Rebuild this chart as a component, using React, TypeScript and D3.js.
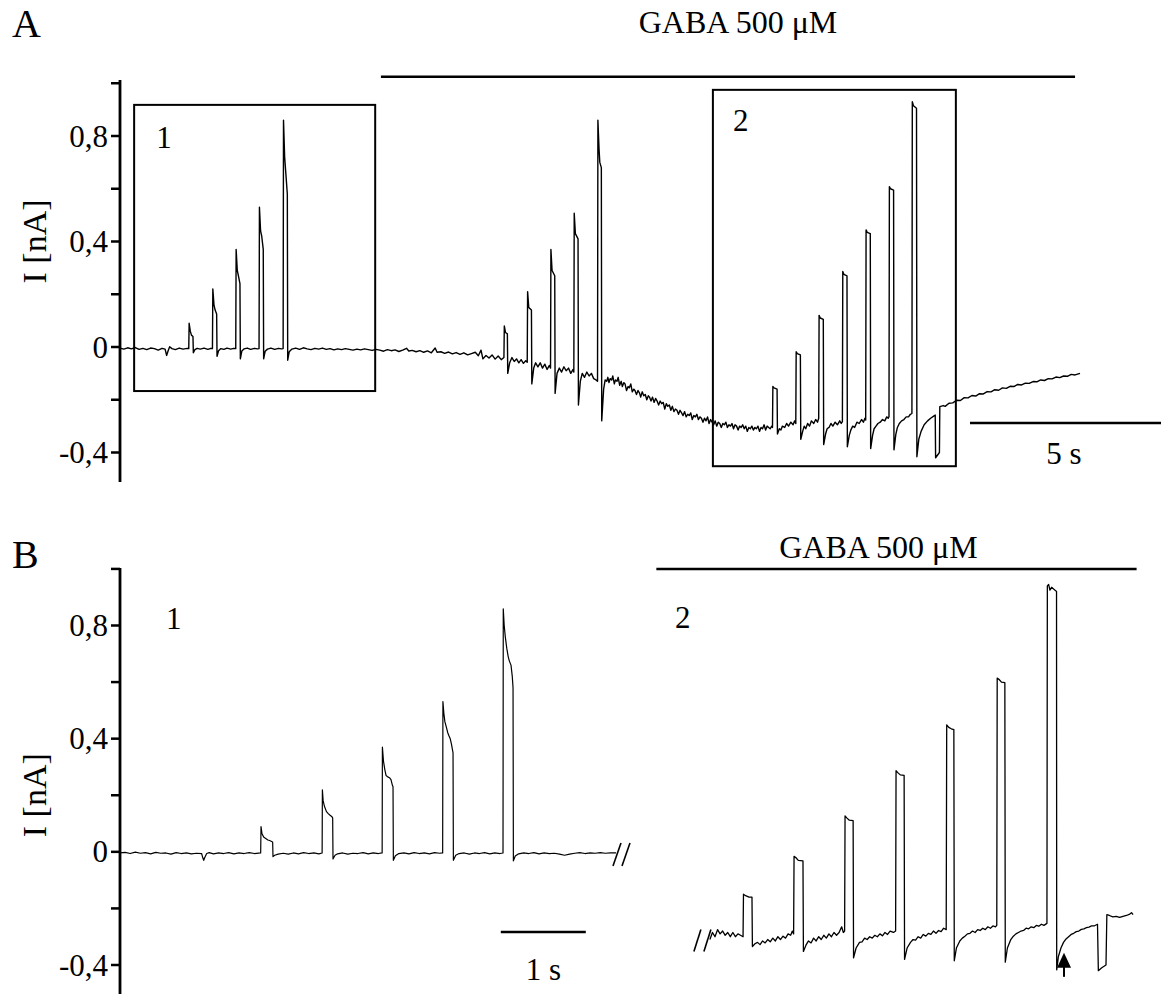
import React from 'react';
import * as d3 from 'd3';

type P = [number, number];

// ---------- tick definitions ----------
const yTicks = [-0.4, -0.2, 0, 0.2, 0.4, 0.6, 0.8, 1.0];
const yTickLabels = [-0.4, 0, 0.4, 0.8];
const fmt = (v: number) => (v === 0 ? '0' : String(v).replace('.', ','));

// ---------- Panel A trace (time s, current nA) ----------
const traceA: P[] = [
  [0.00,-0.004],[0.10,-0.008],[0.20,-0.003],[0.30,-0.007],[0.40,-0.002],[0.50,-0.009],[0.60,-0.005],[0.70,-0.010],[0.80,-0.004],[0.90,-0.006],[1.00,-0.012],[1.10,-0.005],[1.18,-0.008],[1.22,-0.032],[1.26,-0.014],[1.30,0.001],[1.36,-0.006],[1.45,-0.010],[1.55,-0.004],[1.65,-0.008],[1.76,-0.005],
  [1.80,-0.006],[1.81,0.09],[1.84,0.06],[1.87,0.045],[1.91,0.04],[1.92,-0.022],[1.96,-0.010],[2.02,-0.005],[2.10,-0.008],[2.20,-0.004],[2.30,-0.009],[2.38,-0.005],
  [2.42,-0.006],[2.43,0.22],[2.46,0.16],[2.49,0.14],[2.53,0.125],[2.54,-0.035],[2.58,-0.014],[2.64,-0.006],[2.72,-0.009],[2.80,-0.004],[2.90,-0.008],[2.98,-0.005],
  [3.03,-0.006],[3.04,0.37],[3.07,0.29],[3.10,0.27],[3.14,0.24],[3.15,-0.045],[3.19,-0.015],[3.25,-0.007],[3.33,-0.004],[3.42,-0.009],[3.52,-0.005],[3.60,-0.007],
  [3.64,-0.006],[3.65,0.53],[3.68,0.44],[3.71,0.42],[3.75,0.37],[3.76,-0.045],[3.80,-0.016],[3.86,-0.008],[3.95,-0.004],[4.05,-0.009],[4.15,-0.005],[4.23,-0.007],
  [4.27,-0.006],[4.28,0.86],[4.31,0.72],[4.34,0.66],[4.38,0.58],[4.39,-0.05],[4.43,-0.018],[4.50,-0.008],[4.60,-0.004],
  [4.70,-0.009],[4.80,-0.003],[4.90,-0.007],[5.00,-0.010],[5.10,-0.005],[5.20,-0.008],[5.30,-0.004],[5.40,-0.009],[5.50,-0.006],[5.60,-0.011],[5.70,-0.007],[5.80,-0.010],[5.90,-0.006],[6.00,-0.009],[6.10,-0.012],[6.20,-0.008],[6.30,-0.011],[6.40,-0.007],[6.50,-0.010],[6.60,-0.013],[6.70,-0.009],[6.80,-0.012],[6.90,-0.016],[7.00,-0.010],[7.10,-0.014],[7.20,-0.011],[7.30,-0.017],[7.40,-0.012],[7.50,-0.005],[7.56,-0.015],[7.65,-0.013],[7.75,-0.018],[7.85,-0.014],[7.95,-0.020],[8.05,-0.015],[8.15,-0.022],[8.25,-0.004],[8.30,-0.020],[8.40,-0.018],[8.50,-0.024],[8.60,-0.019],[8.70,-0.026],[8.80,-0.021],[8.90,-0.028],[9.00,-0.022],[9.10,-0.030],[9.20,-0.025],[9.30,-0.020],[9.38,-0.033],[9.45,-0.012],[9.50,-0.045],[9.58,-0.032],[9.66,-0.042],[9.74,-0.030],[9.82,-0.046],[9.90,-0.034],[9.98,-0.048],[10.05,-0.040],
  [10.06,0.08],[10.09,0.055],[10.14,0.05],[10.15,-0.10],[10.20,-0.06],[10.26,-0.040],[10.32,-0.055],[10.38,-0.045],[10.44,-0.060],[10.50,-0.048],[10.56,-0.062],[10.62,-0.052],[10.66,-0.058],
  [10.67,0.21],[10.70,0.15],[10.77,0.14],[10.78,-0.14],[10.83,-0.08],[10.88,-0.06],[10.94,-0.075],[11.00,-0.06],[11.06,-0.08],[11.12,-0.065],[11.18,-0.085],[11.24,-0.07],[11.27,-0.08],
  [11.28,0.37],[11.31,0.29],[11.38,0.27],[11.39,-0.176],[11.44,-0.10],[11.50,-0.08],[11.56,-0.095],[11.62,-0.075],[11.68,-0.09],[11.74,-0.08],[11.80,-0.10],[11.86,-0.085],[11.88,-0.095],
  [11.89,0.507],[11.92,0.43],[11.99,0.41],[12.00,-0.22],[12.05,-0.13],[12.10,-0.10],[12.16,-0.115],[12.22,-0.095],[12.28,-0.11],[12.34,-0.10],[12.40,-0.12],[12.46,-0.125],[12.50,-0.13],
  [12.51,0.86],[12.54,0.75],[12.56,0.70],[12.60,0.68],[12.61,-0.28],[12.66,-0.16],
  [12.70,-0.125],[12.74,-0.13],[12.77,-0.115],[12.80,-0.135],[12.83,-0.12],[12.87,-0.125],[12.90,-0.11],[12.94,-0.14],[12.97,-0.125],[13.01,-0.13],[13.04,-0.115],[13.08,-0.145],[13.12,-0.13],[13.15,-0.15],[13.19,-0.135],[13.22,-0.14],[13.26,-0.165],[13.30,-0.15],[13.33,-0.155],[13.37,-0.14],[13.41,-0.17],[13.45,-0.16],[13.48,-0.165],[13.52,-0.18],[13.56,-0.165],[13.60,-0.175],[13.63,-0.19],[13.67,-0.17],[13.71,-0.185],[13.75,-0.18],[13.79,-0.20],[13.83,-0.185],[13.86,-0.19],[13.90,-0.205],[13.94,-0.19],[13.98,-0.21],[14.02,-0.195],[14.06,-0.205],[14.10,-0.22],[14.14,-0.205],[14.18,-0.215],[14.22,-0.21],[14.26,-0.235],[14.30,-0.215],[14.34,-0.225],[14.38,-0.22],[14.42,-0.24],[14.46,-0.225],[14.50,-0.245],[14.54,-0.235],[14.58,-0.24],[14.62,-0.255],[14.66,-0.24],[14.70,-0.25],[14.74,-0.26],[14.78,-0.245],[14.82,-0.265],[14.86,-0.255],[14.90,-0.26],[14.94,-0.25],[14.98,-0.275],[15.02,-0.26],[15.06,-0.265],[15.10,-0.255],[15.14,-0.275],[15.18,-0.265],[15.22,-0.27],[15.26,-0.285],[15.30,-0.27],[15.34,-0.28],[15.38,-0.265],[15.42,-0.29],[15.46,-0.275],[15.50,-0.285],[15.54,-0.295],[15.58,-0.28],[15.62,-0.30],[15.66,-0.285],[15.70,-0.29],[15.74,-0.305],[15.78,-0.29],[15.82,-0.295],[15.86,-0.285],[15.90,-0.305],[15.94,-0.295],[15.98,-0.30],[16.02,-0.29],[16.06,-0.31],[16.10,-0.295],[16.14,-0.30],[16.18,-0.315],[16.22,-0.30],[16.26,-0.305],[16.30,-0.295],[16.34,-0.31],[16.38,-0.30],[16.42,-0.32],[16.46,-0.305],[16.50,-0.31],[16.54,-0.30],[16.58,-0.315],[16.62,-0.305],[16.66,-0.31],[16.70,-0.30],[16.74,-0.32],[16.78,-0.305],[16.82,-0.31],[16.86,-0.295],[16.90,-0.315],[16.94,-0.30],[16.98,-0.305],[17.02,-0.31],[17.06,-0.30],[17.08,-0.305],
  [17.09,-0.15],[17.12,-0.155],[17.20,-0.16],[17.21,-0.33],[17.26,-0.31],[17.30,-0.315],[17.34,-0.30],[17.40,-0.305],[17.45,-0.29],[17.50,-0.30],[17.56,-0.285],[17.62,-0.295],[17.66,-0.28],[17.69,-0.29],
  [17.70,-0.018],[17.73,-0.025],[17.81,-0.03],[17.82,-0.35],[17.87,-0.32],[17.91,-0.30],[17.95,-0.31],[18.00,-0.29],[18.05,-0.30],[18.10,-0.28],[18.16,-0.29],[18.21,-0.275],[18.26,-0.285],[18.29,-0.27],
  [18.30,0.12],[18.33,0.11],[18.41,0.105],[18.42,-0.37],[18.47,-0.33],[18.51,-0.31],[18.56,-0.305],[18.61,-0.29],[18.66,-0.30],[18.72,-0.285],[18.78,-0.295],[18.84,-0.28],[18.88,-0.29],[18.91,-0.283],
  [18.92,0.286],[18.95,0.275],[19.03,0.27],[19.04,-0.378],[19.09,-0.335],[19.13,-0.315],[19.18,-0.30],[19.23,-0.305],[19.29,-0.285],[19.35,-0.29],[19.41,-0.275],[19.46,-0.285],[19.50,-0.27],[19.52,-0.277],
  [19.53,0.444],[19.56,0.435],[19.64,0.43],[19.65,-0.385],[19.70,-0.335],[19.74,-0.31],[19.79,-0.30],[19.84,-0.29],[19.90,-0.285],[19.96,-0.275],[20.02,-0.28],[20.07,-0.265],[20.11,-0.27],[20.13,-0.264],
  [20.14,0.608],[20.17,0.60],[20.25,0.595],[20.26,-0.39],[20.31,-0.33],[20.35,-0.305],[20.40,-0.29],[20.46,-0.28],[20.52,-0.275],[20.58,-0.265],[20.64,-0.265],[20.69,-0.255],[20.73,-0.252],
  [20.74,0.93],[20.77,0.915],[20.85,0.905],[20.86,-0.416],[20.91,-0.35],[20.97,-0.32],[21.05,-0.295],[21.14,-0.28],[21.22,-0.27],[21.30,-0.262],[21.34,-0.258],
  [21.35,-0.42],[21.45,-0.40],[21.46,-0.226],[21.55,-0.222],[21.60,-0.225],[21.70,-0.213],[21.80,-0.212],[21.90,-0.202],[22.00,-0.203],[22.10,-0.192],[22.20,-0.193],[22.30,-0.184],[22.40,-0.186],[22.50,-0.177],[22.60,-0.178],[22.70,-0.169],[22.80,-0.170],[22.90,-0.162],[23.00,-0.164],[23.10,-0.155],[23.20,-0.157],[23.30,-0.149],[23.40,-0.150],[23.50,-0.142],[23.60,-0.144],[23.70,-0.137],[23.80,-0.138],[23.90,-0.131],[24.00,-0.132],[24.10,-0.125],[24.20,-0.127],[24.30,-0.120],[24.40,-0.121],[24.50,-0.114],[24.60,-0.116],[24.70,-0.110],[24.80,-0.111],[24.90,-0.104],[25.00,-0.106],[25.13,-0.100],
];

// ---------- Panel B, segment 1 (before GABA) ----------
const traceB1: P[] = [
  [0.00,-0.004],[0.06,-0.002],[0.12,-0.006],[0.18,-0.001],[0.24,-0.005],[0.30,-0.003],[0.36,-0.007],[0.42,-0.002],[0.48,-0.005],[0.54,-0.004],[0.60,-0.008],[0.66,-0.003],[0.72,-0.006],[0.78,-0.004],[0.84,-0.007],[0.90,-0.005],[0.96,-0.006],[0.975,-0.022],[0.985,-0.03],[1.00,-0.018],[1.02,-0.006],[1.05,-0.003],[1.10,-0.007],[1.16,-0.004],[1.22,-0.006],[1.28,-0.003],[1.34,-0.007],[1.40,-0.004],[1.46,-0.006],[1.52,-0.003],[1.58,-0.006],[1.655,-0.004],
  [1.659,0.089],[1.67,0.065],[1.69,0.052],[1.71,0.048],[1.74,0.042],[1.76,0.04],[1.796,0.035],[1.80,-0.017],[1.82,-0.012],[1.86,-0.008],[1.92,-0.005],[1.98,-0.008],[2.04,-0.004],[2.10,-0.007],[2.16,-0.003],[2.22,-0.006],[2.28,-0.004],[2.34,-0.007],[2.378,-0.004],
  [2.381,0.219],[2.39,0.18],[2.406,0.16],[2.429,0.142],[2.45,0.135],[2.468,0.13],[2.49,0.125],[2.502,0.12],[2.506,-0.025],[2.53,-0.012],[2.56,-0.007],[2.62,-0.004],[2.68,-0.008],[2.74,-0.005],[2.80,-0.006],[2.86,-0.003],[2.92,-0.007],[2.98,-0.004],[3.04,-0.006],[3.084,-0.004],
  [3.087,0.37],[3.10,0.32],[3.116,0.29],[3.13,0.27],[3.15,0.265],[3.17,0.262],[3.188,0.255],[3.205,0.235],[3.212,0.23],[3.216,-0.03],[3.24,-0.014],[3.28,-0.006],[3.34,-0.004],[3.40,-0.007],[3.46,-0.003],[3.52,-0.006],[3.58,-0.004],[3.64,-0.007],[3.70,-0.003],[3.76,-0.005],[3.796,-0.004],
  [3.799,0.531],[3.81,0.49],[3.822,0.46],[3.84,0.44],[3.857,0.42],[3.87,0.41],[3.885,0.40],[3.90,0.38],[3.918,0.35],[3.922,-0.03],[3.95,-0.012],[3.99,-0.006],[4.05,-0.004],[4.11,-0.008],[4.17,-0.004],[4.23,-0.006],[4.29,-0.003],[4.35,-0.007],[4.41,-0.004],[4.47,-0.006],[4.506,-0.004],
  [4.509,0.859],[4.52,0.80],[4.533,0.76],[4.55,0.72],[4.567,0.69],[4.58,0.675],[4.60,0.66],[4.615,0.62],[4.624,0.58],[4.628,-0.032],[4.65,-0.015],[4.69,-0.007],[4.75,-0.004],[4.81,-0.006],[4.87,-0.003],[4.93,-0.007],[4.99,-0.004],[5.05,-0.006],[5.11,-0.005],[5.17,-0.008],[5.23,-0.012],[5.29,-0.008],[5.35,-0.005],[5.41,-0.003],[5.47,-0.006],[5.53,-0.004],[5.59,-0.005],[5.65,-0.003],[5.71,-0.005],[5.77,-0.004],[5.835,-0.004],
];

// ---------- Panel B, segment 2 (GABA) ----------
const traceB2: P[] = [
  [6.94,-0.31],[6.97,-0.285],[7.00,-0.30],[7.03,-0.275],[7.06,-0.29],[7.09,-0.28],[7.12,-0.295],[7.15,-0.285],[7.18,-0.30],[7.21,-0.285],[7.24,-0.30],[7.27,-0.29],[7.30,-0.295],[7.33,-0.30],
  [7.335,-0.15],[7.36,-0.155],[7.40,-0.16],[7.435,-0.16],[7.44,-0.335],[7.47,-0.325],[7.50,-0.32],[7.53,-0.328],[7.56,-0.315],[7.59,-0.322],[7.62,-0.31],[7.65,-0.318],[7.68,-0.305],[7.71,-0.315],[7.74,-0.30],[7.77,-0.31],[7.80,-0.298],[7.83,-0.305],[7.86,-0.29],[7.89,-0.295],[7.91,-0.28],[7.925,-0.29],
  [7.93,-0.016],[7.95,-0.02],[7.98,-0.03],[8.035,-0.032],[8.04,-0.352],[8.07,-0.33],[8.10,-0.315],[8.13,-0.322],[8.16,-0.305],[8.19,-0.315],[8.22,-0.30],[8.25,-0.31],[8.28,-0.295],[8.31,-0.305],[8.34,-0.29],[8.37,-0.30],[8.40,-0.285],[8.43,-0.295],[8.46,-0.285],[8.49,-0.265],[8.51,-0.285],[8.525,-0.28],
  [8.53,0.127],[8.55,0.12],[8.58,0.112],[8.625,0.11],[8.63,-0.375],[8.66,-0.34],[8.70,-0.32],[8.73,-0.318],[8.76,-0.305],[8.79,-0.31],[8.82,-0.30],[8.85,-0.305],[8.88,-0.295],[8.91,-0.30],[8.94,-0.29],[8.97,-0.297],[9.00,-0.285],[9.03,-0.292],[9.06,-0.28],[9.10,-0.285],[9.125,-0.28],
  [9.13,0.287],[9.15,0.28],[9.18,0.272],[9.225,0.27],[9.23,-0.38],[9.26,-0.34],[9.30,-0.32],[9.33,-0.31],[9.36,-0.312],[9.39,-0.30],[9.42,-0.305],[9.45,-0.292],[9.48,-0.298],[9.51,-0.288],[9.54,-0.292],[9.57,-0.28],[9.60,-0.288],[9.63,-0.278],[9.66,-0.282],[9.69,-0.27],[9.72,-0.275],
  [9.726,0.449],[9.75,0.44],[9.78,0.435],[9.81,0.432],[9.815,-0.385],[9.84,-0.34],[9.88,-0.315],[9.91,-0.305],[9.94,-0.298],[9.97,-0.29],[10.00,-0.288],[10.03,-0.28],[10.06,-0.285],[10.09,-0.275],[10.12,-0.278],[10.15,-0.27],[10.18,-0.275],[10.21,-0.265],[10.24,-0.27],[10.27,-0.262],[10.30,-0.265],[10.315,-0.26],
  [10.32,0.614],[10.34,0.61],[10.37,0.60],[10.41,0.598],[10.415,-0.39],[10.44,-0.34],[10.48,-0.31],[10.51,-0.298],[10.54,-0.29],[10.57,-0.285],[10.60,-0.28],[10.63,-0.278],[10.66,-0.27],[10.69,-0.272],[10.72,-0.265],[10.75,-0.268],[10.78,-0.26],[10.81,-0.263],[10.84,-0.256],[10.87,-0.26],[10.905,-0.253],
  [10.91,0.94],[10.925,0.945],[10.94,0.925],[10.96,0.935],[11.0,0.925],[11.018,0.92],[11.02,-0.417],[11.04,-0.37],[11.07,-0.34],[11.10,-0.32],[11.13,-0.308],[11.16,-0.30],[11.19,-0.292],[11.22,-0.288],[11.25,-0.282],[11.28,-0.28],[11.31,-0.274],[11.34,-0.272],[11.37,-0.268],[11.40,-0.266],[11.43,-0.262],[11.46,-0.262],[11.50,-0.256],
  [11.51,-0.42],[11.55,-0.41],[11.60,-0.40],[11.61,-0.222],[11.64,-0.225],[11.68,-0.23],[11.72,-0.228],[11.76,-0.232],[11.80,-0.228],[11.84,-0.225],[11.88,-0.22],[11.90,-0.215],[11.918,-0.222],
];

// ---------- annotations (time, current) ----------
const boxesA = [
  { label: '1', t0: 0.37, t1: 6.68, v0: -0.167, v1: 0.918 },
  { label: '2', t0: 15.52, t1: 21.88, v0: -0.452, v1: 0.975 },
];
const gabaA = { t0: 6.83, t1: 25.0, v: 1.025 };
const gabaB = { t0: 6.31, t1: 11.96, v: 1.0 };
const scaleBarA = { t0: 22.25, len: 5, label: '5 s' };
const scaleBarB = { t0: 4.48, len: 1, label: '1 s' };
const arrowB = { t: 11.106, v: -0.357 };

const FONT = '"Liberation Serif", "Times New Roman", Times, serif';

function YAxis({ y, x, top, bottom }: { y: d3.ScaleLinear<number, number>; x: number; top: number; bottom: number }) {
  return (
    <g>
      <line x1={x} x2={x} y1={top} y2={bottom} stroke="#000" strokeWidth={2.8} />
      {yTicks.map((t) => (
        <line key={t} x1={x - 9} x2={x} y1={y(t)} y2={y(t)} stroke="#000" strokeWidth={2.5} />
      ))}
      {yTickLabels.map((t) => (
        <text key={t} x={x - 12} y={y(t)} dy="0.34em" textAnchor="end" fontSize={31}>
          {fmt(t)}
        </text>
      ))}
    </g>
  );
}

export default function App() {
  const xA = d3.scaleLinear().domain([0, 27.25]).range([120, 1161]);
  const yA = d3.scaleLinear().domain([-0.4, 0.8]).range([452.5, 136]);
  const xB = d3.scaleLinear().domain([0, 12]).range([120, 1140]);
  const yB = d3.scaleLinear().domain([-0.4, 0.8]).range([965, 625.5]);

  const lineA = d3.line<P>().x((d) => xA(d[0])).y((d) => yA(d[1]));
  const lineB = d3.line<P>().x((d) => xB(d[0])).y((d) => yB(d[1]));

  const b1End = traceB1[traceB1.length - 1];
  const b1x = xB(b1End[0]);
  const b1y = yB(b1End[1]);
  const b2Start = traceB2[0];
  const b2x = xB(b2Start[0]);
  const b2y = yB(b2Start[1]);
  const ax = xB(arrowB.t);
  const ay = yB(arrowB.v);

  return (
    <svg
      width={1161}
      height={994}
      style={{ position: 'absolute', left: 0, top: 0, display: 'block', background: '#fff' }}
      fontFamily={FONT}
    >
      <rect x={0} y={0} width={1161} height={994} fill="#fff" />
      {/* ---------------- Panel A ---------------- */}
      <text x={12} y={37} fontSize={40}>A</text>
      <text x={(xA(gabaA.t0) + xA(gabaA.t1)) / 2 + 10} y={33} textAnchor="middle" fontSize={32}>GABA 500 μM</text>
      <line x1={xA(gabaA.t0)} x2={xA(gabaA.t1)} y1={yA(gabaA.v)} y2={yA(gabaA.v)} stroke="#000" strokeWidth={2.5} />
      <YAxis y={yA} x={120} top={80} bottom={482} />
      <text transform={`translate(46,${yA(0.4)}) rotate(-90)`} textAnchor="middle" fontSize={34}>I [nA]</text>
      {boxesA.map((b) => (
        <rect
          key={b.label}
          x={xA(b.t0)}
          y={yA(b.v1)}
          width={xA(b.t1) - xA(b.t0)}
          height={yA(b.v0) - yA(b.v1)}
          fill="none"
          stroke="#000"
          strokeWidth={2}
        />
      ))}
      <text x={xA(boxesA[0].t0) + 22} y={yA(boxesA[0].v1) + 43} fontSize={31}>1</text>
      <text x={xA(boxesA[1].t0) + 20} y={yA(boxesA[1].v1) + 41} fontSize={31}>2</text>
      <path d={lineA(traceA) || ''} fill="none" stroke="#000" strokeWidth={1.4} strokeLinejoin="round" />
      <line x1={xA(scaleBarA.t0)} x2={xA(scaleBarA.t0 + scaleBarA.len)} y1={423} y2={423} stroke="#000" strokeWidth={2.5} />
      <text x={1064} y={464} textAnchor="middle" fontSize={31}>{scaleBarA.label}</text>

      {/* ---------------- Panel B ---------------- */}
      <text x={12} y={568} fontSize={40}>B</text>
      <text x={(xB(gabaB.t0) + xB(gabaB.t1)) / 2 - 18} y={558} textAnchor="middle" fontSize={32}>GABA 500 μM</text>
      <line x1={xB(gabaB.t0)} x2={xB(gabaB.t1)} y1={yB(gabaB.v)} y2={yB(gabaB.v)} stroke="#000" strokeWidth={2.5} />
      <YAxis y={yB} x={120} top={568} bottom={994} />
      <text transform={`translate(46,${yB(0.2)}) rotate(-90)`} textAnchor="middle" fontSize={34}>I [nA]</text>
      <text x={166} y={629} fontSize={31}>1</text>
      <text x={675} y={628} fontSize={31}>2</text>
      <path d={lineB(traceB1) || ''} fill="none" stroke="#000" strokeWidth={1.2} strokeLinejoin="round" />
      <path d={lineB(traceB2) || ''} fill="none" stroke="#000" strokeWidth={1.3} strokeLinejoin="round" />
      {/* break marks */}
      <line x1={b1x - 3} y1={b1y + 13} x2={b1x + 5} y2={b1y - 10} stroke="#000" strokeWidth={1.6} />
      <line x1={b1x + 6} y1={b1y + 13} x2={b1x + 14} y2={b1y - 10} stroke="#000" strokeWidth={1.6} />
      <line x1={b2x - 16} y1={b2y + 12} x2={b2x - 9} y2={b2y - 10} stroke="#000" strokeWidth={1.6} />
      <line x1={b2x - 6} y1={b2y + 12} x2={b2x + 1} y2={b2y - 10} stroke="#000" strokeWidth={1.6} />
      {/* arrow */}
      <polygon points={`${ax},${ay} ${ax - 7},${ay + 15} ${ax + 7},${ay + 15}`} fill="#000" />
      <line x1={ax} x2={ax} y1={ay + 14} y2={ay + 24} stroke="#000" strokeWidth={2} />
      {/* scale bar */}
      <line x1={xB(scaleBarB.t0)} x2={xB(scaleBarB.t0 + scaleBarB.len)} y1={932} y2={932} stroke="#000" strokeWidth={2.5} />
      <text x={(xB(scaleBarB.t0) + xB(scaleBarB.t0 + scaleBarB.len)) / 2} y={980} textAnchor="middle" fontSize={31}>{scaleBarB.label}</text>
    </svg>
  );
}
